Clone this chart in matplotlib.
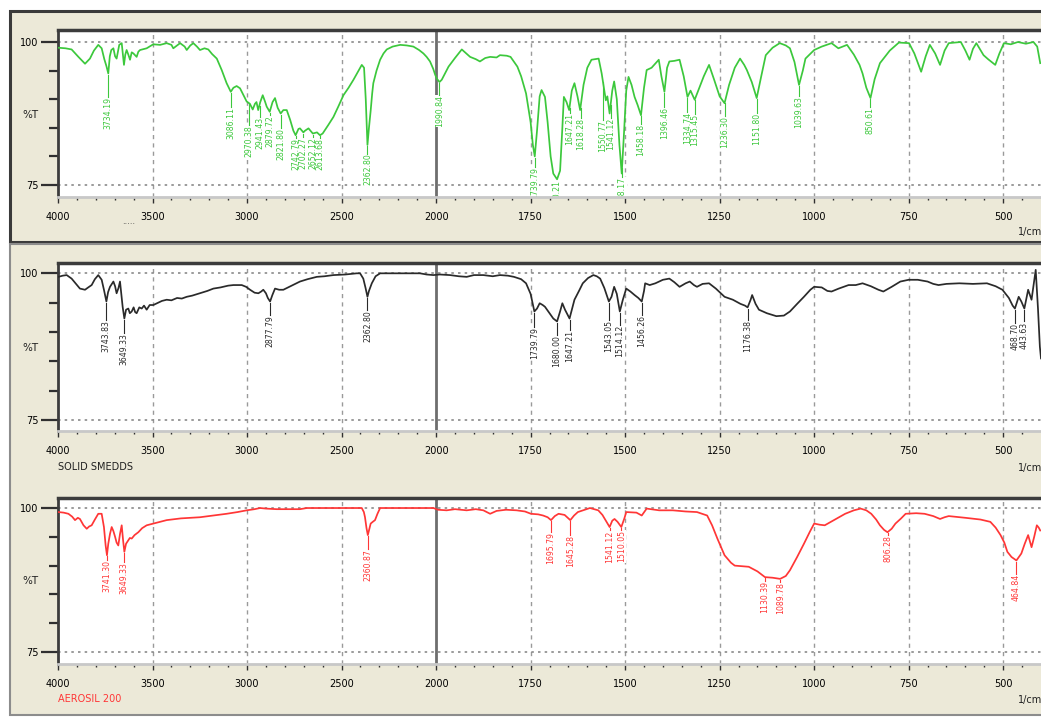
import numpy as np
import matplotlib
matplotlib.use("Agg")
import matplotlib.pyplot as plt
from matplotlib.patches import Rectangle
from matplotlib.ticker import FixedLocator, FixedFormatter

plt.rcParams['font.family'] = ['DejaVu Sans']

# ---------------- data ----------------
x_tick_values = [4000, 3500, 3000, 2500, 2000, 1750, 1500, 1250, 1000, 750, 500]
x_tick_labels = ['4000', '3500', '3000', '2500', '2000', '1750', '1500', '1250', '1000', '750', '500']
y_tick_values = [100, 75]
y_tick_labels = ['100', '75']
y_minor_values = [95, 90, 85, 80]

top_wn = [3998, 3960, 3928, 3892, 3857, 3831, 3810, 3787, 3769, 3755, 3744, 3734, 3726, 3718, 3707,
          3698, 3690, 3676, 3663, 3656, 3651, 3644, 3637, 3628, 3619, 3610, 3601, 3590, 3584, 3575,
          3566, 3531, 3496, 3460, 3425, 3400, 3390, 3370, 3354, 3330, 3319, 3300, 3284, 3265, 3249,
          3225, 3205, 3185, 3160, 3134, 3108, 3086, 3072, 3055, 3037, 3020, 3002, 2985, 2970, 2958,
          2950, 2941, 2930, 2917, 2905, 2896, 2880, 2865, 2852, 2838, 2822, 2808, 2790, 2772, 2755,
          2743, 2728, 2720, 2702, 2693, 2675, 2660, 2652, 2630, 2614, 2600, 2570, 2543, 2516, 2490,
          2463, 2437, 2410, 2393, 2381, 2372, 2363, 2355, 2346, 2338, 2332, 2315, 2296, 2278, 2261,
          2230, 2190, 2155, 2120, 2090, 2067, 2050, 2032, 2015, 2005, 1998, 1991, 1985, 1967, 1950,
          1932, 1920, 1910, 1895, 1884, 1870, 1857, 1840, 1831, 1813, 1803, 1785, 1775, 1762, 1750,
          1744, 1739, 1733, 1726, 1721, 1712, 1705, 1697, 1690, 1680, 1672, 1666, 1662, 1655, 1648,
          1641, 1634, 1626, 1619, 1610, 1600, 1589, 1580, 1570, 1562, 1551, 1547, 1541, 1534, 1529,
          1522, 1515, 1509, 1503, 1497, 1491, 1483, 1475, 1467, 1458, 1450, 1443, 1430, 1411, 1404,
          1396, 1389, 1383, 1370, 1356, 1345, 1335, 1327, 1316, 1306, 1292, 1278, 1265, 1250, 1237,
          1225, 1210, 1196, 1185, 1178, 1165, 1152, 1140, 1128, 1110, 1091, 1075, 1064, 1052, 1040,
          1030, 1023, 1000, 980, 954, 936, 913, 895, 880, 872, 862, 851, 840, 826, 800,
          776, 749, 735, 717, 705, 694, 680, 667, 655, 644, 612, 600, 589, 580, 571,
          562, 552, 540, 521, 510, 498, 480, 461, 440, 420, 410, 402]
top_t = [99.0, 98.9, 98.7, 97.4, 96.2, 97.1, 98.5, 99.5, 98.9, 97.0, 95.8, 94.5, 97.5, 98.6, 98.9,
         97.5, 97.1, 99.5, 99.8, 97.5, 96.0, 97.8, 98.6, 97.8, 96.9, 98.2, 98.0, 97.6, 97.4, 98.3,
         98.6, 98.9, 99.6, 99.5, 99.8, 99.5, 98.9, 99.4, 99.8, 99.2, 98.6, 99.4, 99.8, 99.2, 98.6,
         98.9, 98.7, 97.9, 97.1, 95.1, 92.8, 91.3, 92.0, 92.3, 91.9, 90.8, 89.6, 89.2, 88.2, 89.2,
         89.5, 88.1, 89.5, 90.7, 89.6, 88.7, 87.8, 89.5, 90.2, 88.5, 87.5, 88.1, 88.1, 86.4, 84.5,
         83.7, 84.8, 84.9, 84.2, 84.5, 84.9, 84.3, 84.0, 84.2, 83.7, 84.0, 85.5, 86.9, 88.8, 90.7,
         92.0, 93.4, 95.0, 96.0, 95.5, 90.0, 82.0, 85.0, 88.0, 91.0, 92.8, 95.0, 96.9, 98.0, 98.7,
         99.2, 99.5, 99.4, 99.2, 98.6, 98.0, 97.4, 96.6, 95.3, 94.3, 93.6, 93.0, 93.4, 95.7, 97.2,
         98.7, 98.0, 97.4, 97.0, 96.6, 97.2, 97.4, 97.3, 97.7, 97.6, 97.4, 95.7, 94.0, 91.0, 86.0,
         82.0, 80.0, 84.5, 90.5, 91.6, 90.4, 86.0, 80.0, 77.0, 76.0, 77.5, 85.0, 90.4, 89.5, 88.1,
         91.5, 92.8, 90.5, 88.1, 92.5, 95.5, 96.9, 97.0, 97.1, 94.5, 89.8, 90.5, 87.5, 91.5, 93.1,
         90.0, 82.0, 77.0, 84.0, 91.5, 93.9, 92.5, 90.4, 89.0, 87.2, 92.0, 95.1, 95.5, 96.9, 94.0,
         91.3, 95.5, 96.6, 96.7, 96.9, 94.0, 90.4, 91.5, 89.9, 91.6, 94.0, 96.0, 93.5, 90.5, 89.3,
         92.5, 95.5, 97.1, 96.0, 95.1, 93.0, 90.2, 94.0, 97.7, 99.0, 99.8, 99.4, 98.9, 96.5, 92.5,
         95.0, 97.1, 98.6, 99.2, 99.8, 98.9, 99.5, 97.8, 96.0, 94.5, 92.0, 90.2, 93.5, 96.3, 98.5,
         99.9, 99.8, 98.0, 94.8, 97.5, 99.5, 98.0, 96.0, 98.5, 99.8, 100.0, 98.5, 96.9, 98.8, 99.8,
         98.8, 97.7, 97.0, 96.0, 98.0, 99.8, 99.6, 100.0, 99.7, 100.0, 99.2, 96.3]
top_labels = ['3734.19', '3086.11', '2970.38', '2941.43', '2879.72', '2821.80', '2742.79', '2702.27',
              '2652.12', '2613.68', '2362.80', '1990.84', '1739.79', '1680.21', '1647.21', '1618.28',
              '1550.77', '1541.12', '1508.17', '1458.18', '1396.46', '1334.74', '1315.45', '1236.30',
              '1151.80', '1039.63', '850.61']
top_label_x = [3734, 3086, 2992, 2934, 2880, 2822, 2743, 2702, 2652, 2614, 2363, 1991, 1739, 1680,
               1647, 1618, 1559, 1538, 1508, 1458, 1396, 1335, 1315, 1236, 1152, 1040, 851]
top_label_top = [90.4, 88.7, 85.5, 86.9, 87.2, 84.9, 83.2, 83.4, 83.4, 83.2, 80.5, 90.7, 78.2, 75.8,
                 87.6, 86.7, 86.4, 86.8, 76.4, 85.7, 88.6, 87.8, 87.5, 87.0, 87.6, 90.5, 88.7]

mid_wn = [3998, 3975, 3954, 3928, 3905, 3884, 3857, 3840, 3822, 3805, 3787, 3769, 3757, 3744, 3735,
          3725, 3707, 3698, 3690, 3680, 3672, 3658, 3649, 3640, 3628, 3620, 3610, 3600, 3592, 3584,
          3570, 3557, 3545, 3531, 3515, 3496, 3470, 3450, 3425, 3400, 3370, 3345, 3319, 3290, 3249,
          3210, 3178, 3140, 3100, 3072, 3050, 3028, 3005, 2984, 2960, 2940, 2925, 2914, 2900, 2890,
          2878, 2866, 2852, 2830, 2808, 2770, 2720, 2680, 2631, 2590, 2543, 2480, 2420, 2402, 2385,
          2373, 2363, 2355, 2340, 2320, 2296, 2200, 2085, 2050, 2014, 1990, 1963, 1940, 1919, 1900,
          1875, 1850, 1831, 1810, 1794, 1775, 1762, 1750, 1740, 1733, 1726, 1718, 1712, 1700, 1690,
          1680, 1672, 1666, 1659, 1647, 1640, 1634, 1622, 1612, 1598, 1584, 1575, 1566, 1555, 1543,
          1536, 1529, 1522, 1514, 1506, 1497, 1486, 1475, 1465, 1456, 1450, 1447, 1435, 1420, 1400,
          1383, 1370, 1356, 1340, 1329, 1318, 1310, 1295, 1278, 1260, 1237, 1215, 1195, 1183, 1176,
          1168, 1164, 1155, 1146, 1125, 1100, 1080, 1064, 1045, 1027, 1010, 1000, 980, 965, 954,
          935, 909, 890, 872, 850, 830, 817, 795, 772, 750, 726, 700, 685, 671, 650,
          616, 580, 543, 520, 502, 485, 475, 469, 459, 452, 444, 434, 425, 414, 408,
          403, 400]
mid_t = [99.4, 99.6, 99.7, 99.1, 98.2, 97.4, 97.2, 97.6, 98.0, 99.0, 99.7, 98.9, 97.2, 95.2, 96.8,
         97.7, 98.6, 97.8, 96.6, 97.5, 98.6, 94.3, 92.3, 93.8, 94.0, 93.2, 93.5, 94.2, 93.4, 93.2,
         94.2, 94.0, 94.5, 93.8, 94.6, 94.6, 95.0, 95.3, 95.5, 95.4, 95.8, 95.7, 96.0, 96.2, 96.6,
         97.0, 97.4, 97.6, 97.9, 98.0, 98.0, 98.0, 97.7, 97.2, 96.7, 96.6, 96.9, 97.2, 96.6, 95.8,
         95.2, 96.3, 97.4, 97.2, 97.2, 97.8, 98.6, 99.0, 99.4, 99.5, 99.7, 99.8, 100.0, 100.0, 99.1,
         97.5, 96.0, 97.0, 98.3, 99.5, 100.0, 100.0, 100.0, 99.8, 99.7, 99.8, 99.7, 99.5, 99.4, 99.7,
         99.7, 99.5, 99.7, 99.6, 99.4, 99.0, 98.3, 96.5, 93.5, 94.0, 94.9, 94.6, 94.3, 93.2, 92.3,
         91.8, 93.5, 94.9, 93.8, 92.3, 94.0, 95.5, 97.0, 98.3, 99.2, 99.7, 99.5, 99.1, 97.5, 95.2,
         96.0, 97.7, 96.5, 93.5, 95.5, 97.4, 96.9, 96.3, 95.8, 95.2, 97.0, 98.3, 98.0, 98.3, 98.9,
         99.1, 98.5, 97.7, 98.3, 98.6, 98.0, 97.7, 98.2, 98.3, 97.4, 96.0, 95.5, 94.8, 94.5, 94.2,
         95.5, 96.3, 94.8, 93.8, 93.2, 92.7, 92.8, 93.5, 94.8, 96.0, 97.2, 97.7, 97.6, 97.0, 96.9,
         97.4, 98.0, 98.0, 98.3, 97.8, 97.2, 96.9, 97.7, 98.6, 98.9, 98.9, 98.6, 98.2, 98.0, 98.2,
         98.3, 98.2, 98.3, 97.8, 97.2, 95.8, 94.5, 94.0, 96.0, 95.2, 94.0, 97.2, 95.5, 100.6, 94.0,
         87.5, 85.5]
mid_labels = ['3743.83', '3649.33', '2877.79', '2362.80', '1739.79', '1680.00', '1647.21', '1543.05',
              '1514.12', '1456.26', '1176.38', '468.70', '443.63']
mid_label_x = [3744, 3649, 2878, 2363, 1740, 1680, 1647, 1543, 1514, 1456, 1176, 469, 444]
mid_label_top = [92.0, 89.8, 92.9, 93.75, 90.9, 89.5, 90.3, 92.0, 91.2, 92.9, 92.0, 91.5, 91.8]

bot_wn = [3998, 3970, 3945, 3925, 3910, 3895, 3884, 3865, 3848, 3835, 3822, 3805, 3787, 3769, 3757,
          3748, 3741, 3734, 3725, 3716, 3707, 3698, 3690, 3681, 3672, 3663, 3656, 3649, 3640, 3630,
          3620, 3610, 3595, 3575, 3555, 3531, 3496, 3460, 3425, 3350, 3249, 3180, 3108, 3050, 3002,
          2960, 2931, 2900, 2843, 2780, 2720, 2684, 2500, 2393, 2382, 2376, 2368, 2361, 2352, 2346,
          2335, 2323, 2310, 2296, 2014, 1995, 1972, 1950, 1919, 1895, 1875, 1857, 1840, 1815, 1787,
          1765, 1749, 1730, 1717, 1705, 1696, 1686, 1676, 1660, 1645, 1635, 1625, 1593, 1571, 1560,
          1552, 1541, 1534, 1528, 1520, 1510, 1502, 1497, 1470, 1456, 1443, 1410, 1374, 1340, 1310,
          1283, 1270, 1256, 1237, 1220, 1210, 1190, 1173, 1150, 1130, 1110, 1090, 1075, 1064, 1045,
          1027, 1012, 1000, 985, 972, 945, 918, 895, 877, 862, 849, 836, 826, 815, 806,
          795, 785, 770, 758, 730, 708, 685, 667, 655, 644, 600, 560, 534, 520, 507,
          497, 489, 478, 465, 452, 443, 434, 425, 418, 411, 406, 402]
bot_t = [99.3, 99.2, 99.0, 98.5, 97.9, 98.3, 98.1, 97.0, 96.4, 96.8, 97.0, 98.0, 99.0, 99.0, 96.7,
         93.5, 91.8, 93.8, 95.5, 96.7, 96.0, 95.0, 94.0, 93.5, 95.5, 97.0, 94.5, 92.4, 93.8, 94.3,
         94.8, 94.7, 95.3, 95.8, 96.5, 97.0, 97.3, 97.6, 97.9, 98.2, 98.4, 98.7, 99.0, 99.3, 99.6,
         99.8, 100.0, 99.9, 99.8, 99.8, 99.8, 100.0, 100.0, 100.0, 99.3, 98.4, 96.5, 95.3, 96.5, 97.3,
         97.6, 97.9, 99.0, 100.0, 100.0, 99.7, 99.6, 99.8, 99.6, 99.8, 99.6, 99.0, 99.5, 99.7, 99.6,
         99.4, 99.0, 98.9, 98.7, 98.4, 97.9, 98.6, 99.0, 98.8, 97.9, 98.7, 99.3, 100.0, 99.6, 98.8,
         97.9, 96.7, 97.8, 98.1, 97.6, 96.7, 98.2, 99.3, 99.2, 98.7, 99.9, 99.6, 99.6, 99.4, 99.3,
         98.7, 97.0, 94.7, 91.8, 90.5, 90.0, 89.9, 89.8, 89.0, 88.0, 87.9, 87.7, 88.2, 89.2, 91.5,
         93.8, 95.8, 97.3, 97.1, 97.0, 98.0, 99.0, 99.6, 99.9, 99.6, 99.0, 98.0, 97.0, 96.2, 95.8,
         96.4, 97.3, 98.2, 99.0, 99.1, 99.0, 98.6, 98.1, 98.4, 98.6, 98.3, 98.0, 97.6, 96.6, 95.3,
         94.0, 92.4, 91.5, 90.9, 92.1, 93.8, 95.3, 93.2, 95.0, 97.0, 96.6, 96.1]
bot_labels = ['3741.30', '3649.33', '2360.87', '1695.79', '1645.28', '1541.12', '1510.05', '1130.39',
              '1089.78', '806.28', '464.84']
bot_label_x = [3741, 3649, 2361, 1696, 1645, 1541, 1510, 1130, 1090, 806, 465]
bot_label_top = [90.9, 90.6, 92.9, 95.8, 95.3, 96.1, 96.1, 87.4, 87.2, 95.3, 88.6]

# ---------------- figure ----------------
W, H = 1041, 717
fig = plt.figure(figsize=(W / 100, H / 100), dpi=100, facecolor='white')


def fx(px):
    return px / W


def fy(py):
    return 1 - py / H


BEIGE = '#ECE9D8'
fig.patches.append(Rectangle((fx(10), fy(242)), 1.0, fy(11) - fy(242), transform=fig.transFigure,
                             fc=BEIGE, ec='#3a3a3a', lw=2.2, zorder=-10))
fig.patches.append(Rectangle((fx(10), fy(715)), 1.0, fy(244) - fy(715), transform=fig.transFigure,
                             fc=BEIGE, ec='#8c8c8c', lw=1.5, zorder=-10))


def fwd(x):
    x = np.asarray(x, dtype=float)
    return np.where(x >= 2000, x, 2000 - 2.0 * (2000 - x))


def inv(u):
    u = np.asarray(u, dtype=float)
    return np.where(u >= 2000, u, 2000 - (2000 - u) / 2.0)


minor_x = [v for v in range(3900, 2000, -100) if v % 500] + [v for v in range(1950, 400, -50) if v % 250]


def make_panel(top, bottom, ylim, wn, t, color, labels, label_x, label_top):
    ax = fig.add_axes([fx(58), fy(bottom), 1 - fx(58), fy(top) - fy(bottom)])
    ax.set_zorder(5)
    ax.set_facecolor('white')
    ax.set_xscale('function', functions=(fwd, inv))
    ax.set_xlim(4000, 400)
    ax.set_ylim(*ylim)
    ax.xaxis.set_major_locator(FixedLocator(x_tick_values))
    ax.xaxis.set_major_formatter(FixedFormatter(x_tick_labels))
    ax.xaxis.set_minor_locator(FixedLocator(minor_x))
    ax.set_yticks(y_tick_values)
    ax.set_yticklabels(y_tick_labels)
    ax.set_yticks(y_minor_values, minor=True)
    ax.tick_params(axis='x', which='major', length=4, width=1, color='#303030', pad=7, labelsize=7)
    ax.tick_params(axis='x', which='minor', length=2.5, width=1, color='#303030')
    ax.tick_params(axis='y', which='major', length=12.5, width=1.6, color='#303030', pad=1.5, labelsize=7)
    ax.tick_params(axis='y', which='minor', length=6.5, width=1.6, color='#303030')
    ax.spines['right'].set_visible(False)
    ax.spines['top'].set_color('#3c3c3c')
    ax.spines['top'].set_linewidth(2.5)
    ax.spines['left'].set_color('#3c3c3c')
    ax.spines['left'].set_linewidth(2.0)
    ax.spines['bottom'].set_color('#c8c8c8')
    ax.spines['bottom'].set_linewidth(2.0)
    for v in x_tick_values:
        if v in (4000, 2000):
            continue
        ax.axvline(v, color='#9a9a9a', lw=1.0, ls=(0, (3, 3)), zorder=1)
    ax.axvline(2000, color='#6e6e6e', lw=2.0, zorder=1.2)
    for h in (100, 75):
        ax.axhline(h, color='#8a8a8a', lw=1.2, ls=(0, (1.5, 2.5)), zorder=1)
    wn_a = np.array(wn, dtype=float)
    t_a = np.array(t, dtype=float)
    ax.plot(wn_a, t_a, color=color, lw=1.25, zorder=3)
    for lab, xv, ytop in zip(labels, label_x, label_top):
        peak = np.interp(xv, wn_a[::-1], t_a[::-1])
        if peak - 0.3 > ytop:
            ax.plot([xv, xv], [peak - 0.2, ytop], color=color, lw=0.8, zorder=2.6)
        ax.text(xv, ytop, lab, rotation=90, ha='center', va='top', fontsize=5.6, color=color,
                clip_on=True, zorder=2.5,
                bbox=dict(boxstyle='square,pad=0.03', fc='white', ec='none'))
    ax.text(-0.028, 87.3, '%T', transform=ax.get_yaxis_transform(), ha='center', va='center',
            fontsize=7.5, color='#202020')
    return ax


GREEN = '#3cc83c'
BLACK = '#2a2a2a'
RED = '#ff3636'

make_panel(30, 197, (72.90, 102.10), top_wn, top_t, GREEN, top_labels, top_label_x, top_label_top)
make_panel(263, 431, (73.13, 101.76), mid_wn, mid_t, BLACK, mid_labels, mid_label_x, mid_label_top)
make_panel(498, 664, (72.92, 101.74), bot_wn, bot_t, RED, bot_labels, bot_label_x, bot_label_top)

for ypx in (232, 468, 700):
    fig.text(fx(1018), fy(ypx), '1/cm', ha='left', va='center', fontsize=7, color='#202020')

fig.text(fx(58), fy(467), 'SOLID SMEDDS', ha='left', va='center', fontsize=7, color='#202020')
fig.text(fx(58), fy(699), 'AEROSIL 200', ha='left', va='center', fontsize=7, color=RED)
fig.text(fx(122), fy(222), '.....', ha='left', va='center', fontsize=6, color='#404040')

fig.savefig('out.png', dpi=100, facecolor=fig.get_facecolor())
